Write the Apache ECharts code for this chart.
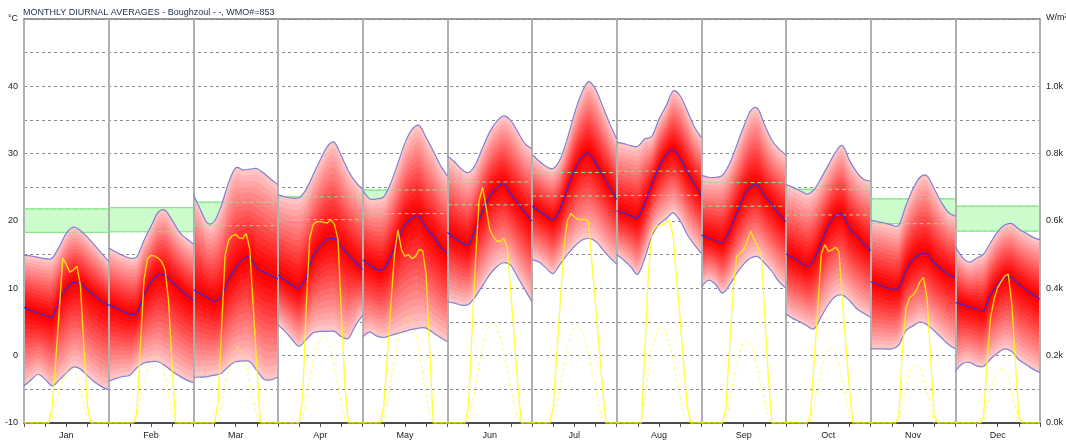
<!DOCTYPE html>
<html>
<head>
<meta charset="utf-8">
<script src="https://cdn.jsdelivr.net/npm/echarts@6.0.0/dist/echarts.min.js"></script>
<style>
  html, body { margin: 0; padding: 0; background: #fff; }
  #chart { width: 1066px; height: 445px; }
</style>
</head>
<body>
<div id="chart"></div>
<script>
const months = ['Jan', 'Feb', 'Mar', 'Apr', 'May', 'Jun', 'Jul', 'Aug', 'Sep', 'Oct', 'Nov', 'Dec'];

// temperatures every 2 hours, 0..24
const tHours = [0, 2, 4, 6, 8, 10, 12, 14, 16, 18, 20, 22, 24];
const tMax = [
  [14.9, 14.8, 14.6, 14.4, 14.5, 16.2, 18.2, 19.1, 18.6, 17.6, 16.4, 15.2, 14.0],
  [16.0, 15.4, 14.9, 14.5, 14.7, 17.1, 19.2, 21.3, 21.6, 20.1, 18.4, 17.4, 16.6],
  [24.0, 21.7, 19.7, 20.0, 22.4, 25.7, 27.9, 27.6, 27.7, 27.8, 27.1, 26.2, 25.4],
  [23.9, 23.6, 23.4, 23.5, 24.7, 26.9, 29.1, 31.1, 31.7, 29.6, 27.4, 25.8, 24.7],
  [24.5, 23.3, 23.3, 23.6, 25.7, 28.6, 31.6, 33.6, 34.2, 32.4, 30.4, 28.3, 26.7],
  [29.7, 28.8, 27.7, 27.2, 28.4, 30.9, 33.2, 34.8, 35.6, 34.9, 33.2, 31.5, 30.7],
  [29.9, 28.9, 28.1, 27.8, 29.2, 32.2, 35.9, 38.9, 40.7, 39.6, 37.1, 34.5, 32.2],
  [31.7, 31.5, 31.2, 31.1, 32.2, 32.6, 35.1, 37.1, 39.3, 38.6, 36.4, 34.0, 32.4],
  [26.8, 26.5, 26.5, 26.8, 28.5, 31.2, 34.0, 36.4, 36.7, 34.2, 32.0, 30.7, 29.8],
  [25.4, 25.0, 24.5, 24.0, 24.7, 26.4, 28.3, 30.2, 31.2, 29.0, 27.3, 26.2, 25.9],
  [20.1, 19.9, 19.7, 19.4, 19.4, 22.3, 24.8, 26.5, 26.7, 24.8, 22.8, 21.3, 20.7],
  [16.2, 14.6, 13.9, 14.5, 15.1, 16.8, 18.4, 19.4, 19.6, 18.8, 18.2, 17.6, 17.2]
];
const tMean = [
  [7.2, 6.7, 6.3, 6.0, 5.8, 8.2, 10.0, 10.9, 10.8, 9.8, 8.9, 8.1, 7.4],
  [7.6, 7.1, 6.6, 6.2, 6.4, 9.0, 10.9, 12.0, 12.0, 11.0, 10.0, 9.0, 8.2],
  [9.8, 9.2, 8.6, 8.1, 8.9, 11.3, 13.0, 14.3, 14.6, 13.0, 12.4, 11.9, 11.4],
  [12.0, 11.2, 10.5, 10.0, 11.8, 14.8, 16.3, 17.3, 17.4, 16.2, 15.0, 13.8, 12.8],
  [14.2, 13.5, 12.8, 12.9, 14.8, 17.3, 19.4, 20.5, 20.7, 19.0, 17.8, 16.2, 15.2],
  [18.3, 17.5, 16.8, 16.5, 18.8, 21.5, 23.7, 25.0, 25.5, 24.0, 22.6, 21.2, 20.0],
  [22.2, 21.5, 20.8, 20.2, 21.8, 24.8, 27.5, 29.3, 30.1, 28.6, 26.8, 25.0, 23.2],
  [21.5, 21.2, 20.8, 20.5, 22.7, 25.5, 28.0, 29.8, 30.6, 29.3, 27.3, 25.5, 23.8],
  [17.9, 17.5, 17.1, 16.8, 18.6, 21.2, 23.6, 25.1, 25.3, 23.7, 22.4, 21.0, 19.9],
  [15.1, 14.5, 13.9, 13.3, 14.4, 16.8, 19.3, 20.8, 21.0, 18.9, 17.8, 16.6, 15.6],
  [11.0, 10.6, 10.2, 9.9, 10.1, 12.6, 14.3, 15.1, 15.1, 13.8, 12.9, 12.1, 11.6],
  [7.9, 7.6, 7.2, 6.9, 6.7, 9.1, 10.6, 11.6, 11.6, 10.6, 9.8, 9.0, 8.4]
];
const tMin = [
  [-4.5, -3.6, -2.8, -3.5, -4.5, -3.6, -2.6, -1.7, -2.0, -3.0, -3.9, -4.6, -5.1],
  [-3.8, -3.4, -3.1, -2.9, -1.8, -1.1, -0.9, -0.9, -1.5, -2.3, -3.0, -3.6, -4.0],
  [-3.2, -3.2, -3.1, -2.9, -2.6, -1.6, -0.9, -0.8, -0.9, -2.2, -3.5, -3.6, -3.2],
  [4.6, 3.6, 2.4, 1.4, 2.4, 3.4, 3.6, 3.6, 3.6, 2.8, 2.6, 4.5, 6.0],
  [2.8, 3.5, 2.9, 2.7, 3.0, 3.3, 3.6, 3.9, 4.1, 4.1, 3.4, 2.7, 2.1],
  [8.0, 7.8, 7.5, 7.6, 8.8, 10.4, 12.0, 13.2, 13.8, 13.4, 11.6, 9.8, 8.0],
  [14.3, 13.9, 13.0, 12.2, 13.6, 15.0, 16.2, 17.1, 17.4, 17.0, 15.8, 14.6, 13.6],
  [15.0, 14.2, 13.2, 12.1, 14.5, 17.8, 19.5, 20.3, 21.2, 20.0, 18.0, 16.5, 15.2],
  [10.2, 11.2, 10.6, 9.3, 10.5, 12.2, 13.6, 14.5, 14.7, 13.7, 12.5, 11.0, 10.0],
  [6.2, 5.5, 5.0, 4.4, 4.0, 5.8, 7.6, 8.8, 9.0, 8.2, 7.0, 6.3, 5.7],
  [1.0, 1.0, 1.0, 1.0, 1.6, 3.7, 4.4, 5.0, 4.6, 3.7, 2.7, 1.7, 1.0],
  [-2.3, -1.2, -1.0, -1.5, -1.6, -0.5, 0.4, 1.0, 0.6, -0.6, -1.3, -2.0, -2.5]
];

// comfort zone (°C)
const comfortLow = [18.3, 18.4, 19.3, 20.2, 21.1, 22.4, 23.7, 23.8, 22.2, 20.9, 19.6, 18.5];
const comfortHigh = [21.8, 22.0, 22.8, 23.6, 24.6, 25.8, 27.2, 27.4, 25.7, 24.7, 23.3, 22.2];

// solar radiation W/m², hourly 0..24
const rHours = [0, 1, 2, 3, 4, 5, 6, 7, 8, 9, 10, 11, 12, 13, 14, 15, 16, 17, 18, 19, 20, 21, 22, 23, 24];
const direct = [
  [0, 0, 0, 0, 0, 0, 0, 0, 48, 186, 336, 490, 470, 448, 455, 466, 408, 220, 48, 0, 0, 0, 0, 0, 0],
  [0, 0, 0, 0, 0, 0, 0, 0, 30, 230, 424, 488, 498, 496, 490, 480, 456, 360, 162, 0, 0, 0, 0, 0, 0],
  [0, 0, 0, 0, 0, 0, 0, 60, 279, 498, 543, 556, 560, 550, 548, 563, 516, 340, 170, 0, 0, 0, 0, 0, 0],
  [0, 0, 0, 0, 0, 0, 0, 76, 344, 550, 590, 598, 598, 596, 594, 604, 590, 545, 316, 104, 0, 0, 0, 0, 0],
  [0, 0, 0, 0, 0, 0, 50, 200, 351, 500, 574, 515, 495, 500, 488, 495, 515, 512, 440, 217, 0, 0, 0, 0, 0],
  [0, 0, 0, 0, 0, 0, 50, 268, 486, 660, 700, 640, 575, 555, 540, 540, 548, 520, 386, 248, 110, 0, 0, 0, 0],
  [0, 0, 0, 0, 0, 0, 46, 198, 358, 516, 600, 622, 612, 605, 604, 605, 600, 474, 352, 228, 104, 0, 0, 0, 0],
  [0, 0, 0, 0, 0, 0, 0, 0, 214, 446, 566, 582, 585, 588, 598, 600, 556, 426, 308, 174, 50, 0, 0, 0, 0],
  [0, 0, 0, 0, 0, 0, 0, 48, 220, 390, 494, 505, 515, 540, 570, 545, 525, 500, 314, 136, 0, 0, 0, 0, 0],
  [0, 0, 0, 0, 0, 0, 0, 30, 186, 340, 502, 530, 510, 514, 522, 510, 364, 226, 98, 0, 0, 0, 0, 0, 0],
  [0, 0, 0, 0, 0, 0, 0, 0, 20, 220, 340, 372, 380, 395, 420, 432, 370, 190, 20, 0, 0, 0, 0, 0, 0],
  [0, 0, 0, 0, 0, 0, 0, 0, 20, 180, 314, 368, 402, 420, 436, 442, 354, 184, 20, 0, 0, 0, 0, 0, 0]
];
const diffuse = [
  [0, 0, 0, 0, 0, 0, 0, 0, 15, 55, 95, 125, 148, 160, 160, 140, 100, 55, 10, 0, 0, 0, 0, 0, 0],
  [0, 0, 0, 0, 0, 0, 0, 0, 15, 70, 120, 160, 190, 205, 200, 180, 140, 85, 30, 0, 0, 0, 0, 0, 0],
  [0, 0, 0, 0, 0, 0, 0, 5, 50, 110, 160, 200, 225, 225, 200, 165, 120, 70, 20, 0, 0, 0, 0, 0, 0],
  [0, 0, 0, 0, 0, 0, 0, 15, 70, 130, 185, 225, 252, 262, 250, 215, 165, 110, 55, 10, 0, 0, 0, 0, 0],
  [0, 0, 0, 0, 0, 0, 10, 60, 125, 185, 240, 280, 305, 316, 300, 265, 210, 145, 80, 20, 0, 0, 0, 0, 0],
  [0, 0, 0, 0, 0, 0, 10, 55, 110, 170, 225, 265, 290, 296, 285, 255, 210, 160, 105, 55, 15, 0, 0, 0, 0],
  [0, 0, 0, 0, 0, 0, 10, 50, 105, 165, 220, 260, 285, 290, 280, 250, 205, 155, 100, 50, 15, 0, 0, 0, 0],
  [0, 0, 0, 0, 0, 0, 0, 0, 70, 150, 215, 260, 282, 286, 270, 235, 185, 130, 80, 35, 5, 0, 0, 0, 0],
  [0, 0, 0, 0, 0, 0, 0, 5, 60, 120, 175, 215, 240, 246, 235, 205, 160, 110, 60, 20, 0, 0, 0, 0, 0],
  [0, 0, 0, 0, 0, 0, 0, 5, 55, 110, 160, 200, 220, 224, 210, 175, 125, 70, 20, 0, 0, 0, 0, 0, 0],
  [0, 0, 0, 0, 0, 0, 0, 0, 10, 60, 110, 150, 170, 176, 165, 135, 90, 40, 0, 0, 0, 0, 0, 0, 0],
  [0, 0, 0, 0, 0, 0, 0, 0, 5, 50, 95, 130, 152, 162, 160, 135, 95, 45, 5, 0, 0, 0, 0, 0, 0]
];

const FONT = 'Liberation Sans';
const N = 15;        // gradient steps of the red band
const TENSION = 1 / 6;

// one line across all 12 months, broken between months
function monthData(hours, valueAt) {
  const out = [];
  for (let m = 0; m < 12; m++) {
    hours.forEach((h, i) => out.push([m * 24 + h, valueAt(m, i)]));
    out.push([m * 24 + 24, '-']);
  }
  return out;
}

function bandColor(k) {
  const t = Math.pow((k - 1) / (N - 1), 1.1);
  const g = Math.round(196 * t);
  return 'rgb(255,' + g + ',' + g + ')';
}

// cubic bezier commands through pixel points (catmull-rom style)
function curveCmds(p) {
  let s = '';
  for (let i = 0; i < p.length - 1; i++) {
    const p0 = p[Math.max(i - 1, 0)], p1 = p[i], p2 = p[i + 1], p3 = p[Math.min(i + 2, p.length - 1)];
    const c1x = p1[0] + (p2[0] - p0[0]) * TENSION, c1y = p1[1] + (p2[1] - p0[1]) * TENSION;
    const c2x = p2[0] - (p3[0] - p1[0]) * TENSION, c2y = p2[1] - (p3[1] - p1[1]) * TENSION;
    s += ' C' + c1x.toFixed(2) + ' ' + c1y.toFixed(2) + ' ' + c2x.toFixed(2) + ' ' + c2y.toFixed(2) +
      ' ' + p2[0].toFixed(2) + ' ' + p2[1].toFixed(2);
  }
  return s;
}
function openPath(p) {
  return 'M' + p[0][0].toFixed(2) + ' ' + p[0][1].toFixed(2) + curveCmds(p);
}
function bandPath(up, lo) {
  const rev = lo.slice().reverse();
  return openPath(up) + ' L' + rev[0][0].toFixed(2) + ' ' + rev[0][1].toFixed(2) + curveCmds(rev) + ' Z';
}

const monthIdx = months.map((_, m) => [m]);
const comfortData = months.map((_, m) => [m, comfortLow[m], comfortHigh[m]]);

const series = [];

// comfort zone fill
series.push({
  type: 'custom', silent: true, z: 1,
  encode: { x: 0, y: [1, 2] },
  data: comfortData,
  renderItem: function (params, api) {
    const m = api.value(0);
    const p0 = api.coord([m * 24, api.value(2)]);
    const p1 = api.coord([m * 24 + 24, api.value(1)]);
    return {
      type: 'group',
      children: [
        { type: 'rect', shape: { x: p0[0], y: p0[1], width: p1[0] - p0[0], height: p1[1] - p0[1] },
          style: { fill: '#ccfccc' } },
        { type: 'line', shape: { x1: p0[0], y1: p0[1], x2: p1[0], y2: p0[1] },
          style: { stroke: '#86ea86', lineWidth: 1.2 } },
        { type: 'line', shape: { x1: p0[0], y1: p1[1], x2: p1[0], y2: p1[1] },
          style: { stroke: '#86ea86', lineWidth: 1.2 } }
      ]
    };
  }
});

// red band: mean -> max / min in N steps, outer first
series.push({
  type: 'custom', silent: true, z: 2,
  encode: { x: 0 },
  data: monthIdx,
  renderItem: function (params, api) {
    const m = api.value(0);
    const pts = arr => tHours.map((h, i) => api.coord([m * 24 + h, arr(i)]));
    const children = [];
    for (let k = N; k >= 1; k--) {
      const f = k / N;
      const up = pts(i => tMean[m][i] + (tMax[m][i] - tMean[m][i]) * f);
      const lo = pts(i => tMean[m][i] - (tMean[m][i] - tMin[m][i]) * f);
      children.push({ type: 'path', shape: { pathData: bandPath(up, lo) },
        style: { fill: bandColor(k), stroke: null } });
    }
    return { type: 'group', children: children };
  }
});

// comfort zone edges over the band
series.push({
  type: 'custom', silent: true, z: 3,
  encode: { x: 0, y: [1, 2] },
  data: comfortData,
  renderItem: function (params, api) {
    const m = api.value(0);
    const p0 = api.coord([m * 24, api.value(2)]);
    const p1 = api.coord([m * 24 + 24, api.value(1)]);
    const st = { stroke: '#8fe08f', lineWidth: 1, lineDash: [4, 3] };
    return {
      type: 'group',
      children: [
        { type: 'line', shape: { x1: p0[0], y1: p0[1], x2: p1[0], y2: p0[1] }, style: st },
        { type: 'line', shape: { x1: p0[0], y1: p1[1], x2: p1[0], y2: p1[1] }, style: st }
      ]
    };
  }
});

// max, min and mean temperature lines
series.push({
  type: 'custom', silent: true, z: 4,
  encode: { x: 0 },
  data: monthIdx,
  renderItem: function (params, api) {
    const m = api.value(0);
    const pts = arr => tHours.map((h, i) => api.coord([m * 24 + h, arr[m][i]]));
    const edge = { stroke: '#8080d4', lineWidth: 1.2, fill: null };
    return {
      type: 'group',
      children: [
        { type: 'path', shape: { pathData: openPath(pts(tMax)) }, style: edge },
        { type: 'path', shape: { pathData: openPath(pts(tMin)) }, style: edge },
        { type: 'path', shape: { pathData: openPath(pts(tMean)) },
          style: { stroke: '#2b2bea', lineWidth: 1.2, fill: null } }
      ]
    };
  }
});

series.push({ type: 'line', name: 'diffuse', yAxisIndex: 1, z: 5, silent: true, symbol: 'none',
  lineStyle: { color: 'rgba(255,250,40,0.75)', width: 1, type: [3, 3] },
  data: monthData(rHours, (m, i) => diffuse[m][i]) });
series.push({ type: 'line', name: 'direct', yAxisIndex: 1, z: 5, silent: true, symbol: 'none',
  lineStyle: { color: 'rgba(255,255,0,0.78)', width: 1.4 },
  data: monthData(rHours, (m, i) => direct[m][i]) });

const chart = echarts.init(document.getElementById('chart'), null, { renderer: 'canvas' });
chart.setOption({
  animation: false,
  backgroundColor: '#ffffff',
  textStyle: { fontFamily: FONT },
  title: {
    text: 'MONTHLY DIURNAL AVERAGES - Boughzoul - -, WMO#=853',
    left: 23, top: 8, padding: 0,
    textStyle: { fontSize: 9, fontWeight: 'normal', color: '#1d2d4d', fontFamily: FONT }
  },
  graphic: [
    { type: 'text', left: 8, top: 14, style: { text: '°C', fontSize: 9, fill: '#222', fontFamily: FONT } },
    { type: 'text', left: 1046, top: 13, style: { text: 'W/m²', fontSize: 9, fill: '#222', fontFamily: FONT } }
  ],
  grid: {
    left: 24, right: 26, top: 19, bottom: 22,
    show: true, borderColor: '#3a3a3a', borderWidth: 1
  },
  xAxis: [
    {
      type: 'value', min: 0, max: 288, interval: 6,
      axisLine: { onZero: false, lineStyle: { color: '#333', width: 1.5 } },
      axisTick: { show: true, length: 4, lineStyle: { color: '#555' } },
      axisLabel: {
        fontSize: 9, color: '#222', margin: 8, fontFamily: FONT,
        formatter: v => (v % 24 === 12 ? months[(v - 12) / 24] : '')
      },
      splitLine: { show: false }
    },
    {
      type: 'value', min: 0, max: 288, interval: 24, position: 'top', z: 3,
      axisLine: { show: false, onZero: false }, axisTick: { show: false }, axisLabel: { show: false },
      splitLine: { show: true, lineStyle: { color: '#b0b0b0', width: 2 } }
    }
  ],
  yAxis: [
    {
      type: 'value', min: -10, max: 50, interval: 5,
      axisLine: { show: true, onZero: false, lineStyle: { color: '#3a3a3a', width: 1.5 } },
      axisTick: { show: false },
      axisLabel: {
        fontSize: 9, color: '#222', margin: 6, fontFamily: FONT,
        formatter: v => (v % 10 === 0 && v < 50 ? String(v) : '')
      },
      splitLine: { show: true, lineStyle: { color: '#8a8a8a', width: 1, type: [3, 3] } }
    },
    {
      type: 'value', min: 0, max: 1200, interval: 100,
      axisLine: { show: true, onZero: false, lineStyle: { color: '#3a3a3a', width: 1.5 } },
      axisTick: { show: false },
      axisLabel: {
        fontSize: 9, color: '#222', margin: 6, fontFamily: FONT,
        formatter: v => (v % 200 === 0 && v < 1200 ? (v / 1000).toFixed(1) + 'k' : '')
      },
      splitLine: { show: false }
    }
  ],
  series: series
});
</script>
</body>
</html>
